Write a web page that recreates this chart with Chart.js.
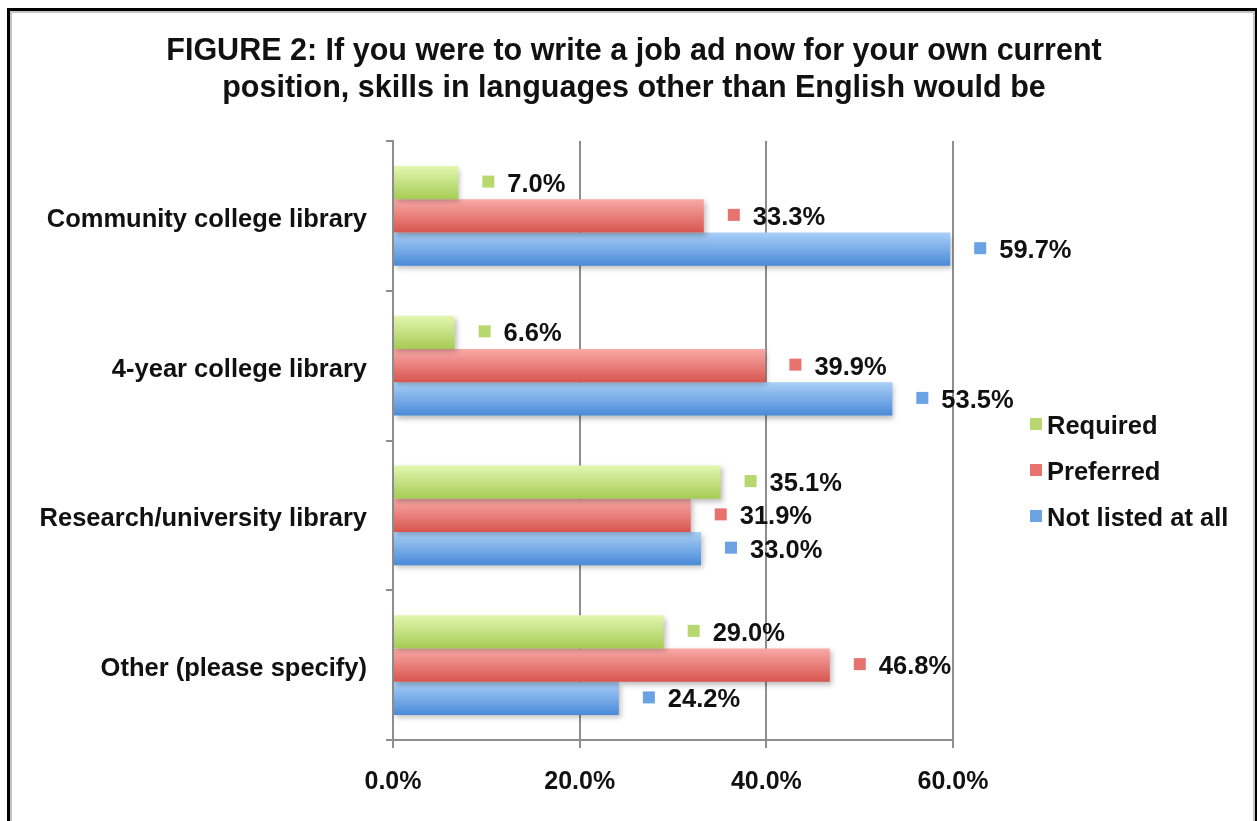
<!DOCTYPE html>
<html>
<head>
<meta charset="utf-8">
<script src="https://cdn.jsdelivr.net/npm/chart.js@4.4.1/dist/chart.umd.min.js"></script>
<style>
    html, body { margin: 0; padding: 0; background: #fff; overflow: hidden; }
    #frame {
        position: absolute; left: 7px; top: 8px; width: 1245px; height: 830px;
        border: 3px solid #000; box-shadow: inset 0 0 0 2px #c4c4c4;
        pointer-events: none;
    }
    #wrap { position: absolute; left: 0; top: 0; width: 1257px; height: 821px; }
</style>
</head>
<body>
<div id="wrap"><canvas id="chart"></canvas></div>
<div id="frame"></div>
<script>
const titleLines = ['FIGURE 2: If you were to write a job ad now for your own current',
                    'position, skills in languages other than English would be'];
const categories = ['Community college library', '4-year college library', 'Research/university library', 'Other (please specify)'];
const seriesNames = ['Required', 'Preferred', 'Not listed at all'];
const required = [7.0, 6.6, 35.1, 29.0];
const preferred = [33.3, 39.9, 31.9, 46.8];
const notListed = [59.7, 53.5, 33.0, 24.2];
const xTicks = [0, 20, 40, 60];

// top / bottom colours of the bar gradients
const palette = [
    { top: '#e2f7b0', bottom: '#a6cb55', key: '#b6d86e' },
    { top: '#f9aaa7', bottom: '#d8554f', key: '#e8726d' },
    { top: '#a9cff7', bottom: '#4a8ad8', key: '#6aa2e4' }
];

const FONT = '"Liberation Sans", Arial, Helvetica, sans-serif';
const CAT_PCT = 0.667;

function barGradient(ctx, i) {
    const chart = ctx.chart;
    const y = chart.scales.y;
    if (!chart.chartArea || !y || ctx.dataIndex === undefined) return palette[i].key;
    const center = y.getPixelForValue(ctx.dataIndex);
    const band = chart.chartArea.height / categories.length;
    const barH = band * CAT_PCT / seriesNames.length;
    const top = center - band * CAT_PCT / 2 + i * barH;
    const g = chart.ctx.createLinearGradient(0, top, 0, top + barH);
    g.addColorStop(0, palette[i].top);
    g.addColorStop(1, palette[i].bottom);
    return g;
}

const shadowPlugin = {
    id: 'barShadow',
    beforeDatasetsDraw(chart) {
        const c = chart.ctx;
        c.save();
        c.shadowColor = 'rgba(0,0,0,0.25)';
        c.shadowBlur = 5;
        c.shadowOffsetX = 2;
        c.shadowOffsetY = 3;
    },
    afterDatasetsDraw(chart) {
        chart.ctx.restore();
    }
};

const labelPlugin = {
    id: 'valueLabels',
    afterDraw(chart) {
        const c = chart.ctx;
        c.save();
        c.fillStyle = '#111';
        c.textAlign = 'center';
        c.textBaseline = 'alphabetic';
        c.font = 'bold 30.5px ' + FONT;
        c.fillText(titleLines[0], 634, 60);
        c.fillText(titleLines[1], 634, 97);

        c.font = 'bold 25.5px ' + FONT;
        c.textBaseline = 'middle';
        c.textAlign = 'left';
        chart.data.datasets.forEach((ds, i) => {
            const meta = chart.getDatasetMeta(i);
            meta.data.forEach((el, j) => {
                c.fillStyle = palette[i].key;
                c.fillRect(el.x + 24, el.y - 7, 12, 12);
                c.fillStyle = '#111';
                c.fillText(ds.data[j].toFixed(1) + '%', el.x + 49, el.y + 2);
            });
        });
        // legend
        seriesNames.forEach((name, i) => {
            const ly = 426 + i * 46;
            c.fillStyle = palette[i].key;
            c.fillRect(1030, ly - 8, 12, 12);
            c.fillStyle = '#111';
            c.fillText(name, 1047, ly + 1);
        });
        c.restore();
    }
};

const gray = '#8e8e8e';

new Chart(document.getElementById('chart'), {
    type: 'bar',
    data: {
        labels: categories,
        datasets: [
            { label: seriesNames[0], data: required, backgroundColor: ctx => barGradient(ctx, 0) },
            { label: seriesNames[1], data: preferred, backgroundColor: ctx => barGradient(ctx, 1) },
            { label: seriesNames[2], data: notListed, backgroundColor: ctx => barGradient(ctx, 2) }
        ]
    },
    options: {
        indexAxis: 'y',
        responsive: true,
        maintainAspectRatio: false,
        animation: false,
        barPercentage: 1,
        categoryPercentage: CAT_PCT,
        layout: { padding: { left: 0, right: 304, top: 141, bottom: 0 } },
        scales: {
            x: {
                min: 0,
                max: 60,
                afterFit: s => { s.height = 81; },
                afterBuildTicks: s => { s.ticks = xTicks.map(v => ({ value: v })); },
                grid: { color: gray, lineWidth: 2, tickLength: 8 },
                border: { color: gray, width: 2 },
                ticks: {
                    color: '#111',
                    padding: 19,
                    font: { family: FONT, size: 25, weight: 'bold' },
                    callback: v => v.toFixed(1) + '%'
                }
            },
            y: {
                afterFit: s => { s.width = 393; },
                grid: { drawOnChartArea: false, color: gray, lineWidth: 2, tickLength: 7 },
                border: { color: gray, width: 2 },
                ticks: {
                    color: '#111',
                    padding: 19,
                    labelOffset: 4,
                    font: { family: FONT, size: 25.5, weight: 'bold' }
                }
            }
        },
        plugins: {
            legend: { display: false },
            tooltip: { enabled: false },
            title: { display: false }
        }
    },
    plugins: [shadowPlugin, labelPlugin]
});
</script>
</body>
</html>
